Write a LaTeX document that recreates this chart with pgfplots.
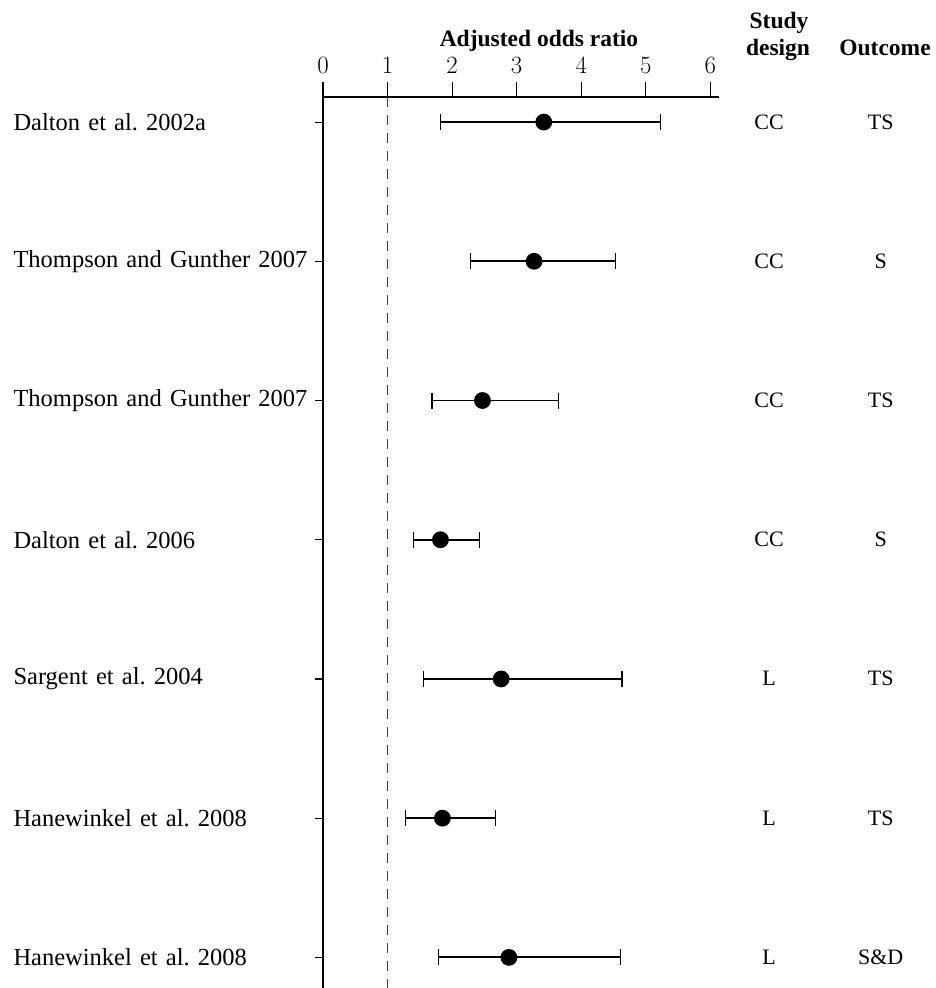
\documentclass[border=0pt]{standalone}
\usepackage{pgfplots}
\pgfplotsset{compat=1.18}
\usepackage{pgfplotstable}
\usepackage{fontspec}
\setmainfont{Liberation Serif}
\frenchspacing
\pgfplotstableread{
row or lo hi
1 3.42 1.82 5.23
2 3.27 2.28 4.53
3 2.47 1.69 3.65
4 1.82 1.40 2.42
5 2.76 1.56 4.63
6 1.85 1.28 2.67
7 2.88 1.79 4.61
}\ordata
\begin{document}
\begin{tikzpicture}[x=1pt,y=1pt]
\path[use as bounding box] (0,0) rectangle (935,-988);
\begin{axis}[
  at={(323pt,-988pt)}, anchor=south west,
  scale only axis, width=395.7pt, height=891pt,
  xmin=0, xmax=6.13, ymin=0.82, ymax=7.22,
  y dir=reverse,
  axis x line*=top, axis y line*=left,
  axis line style={line width=1.8pt, -},
  xtick={0,1,2,3,4,5,6},
  ytick={1,2,3,4,5,6,7},
  yticklabels={Dalton et al. 2002a, Thompson and Gunther 2007, Thompson and Gunther 2007, Dalton et al. 2006, Sargent et al. 2004, Hanewinkel et al. 2008, Hanewinkel et al. 2008},
  tick align=outside,
  xtick style={/pgfplots/major tick length=15pt, line width=1.1pt, black},
  ytick style={/pgfplots/major tick length=8pt, line width=1.1pt, black},
  xticklabel style={font=\fontsize{25}{28}\selectfont, inner sep=0pt, yshift=19pt},
  yticklabel style={font=\fontsize{24.5}{28}\selectfont, text width=297pt, align=left, anchor=east, inner sep=0pt, xshift=-8pt},
  clip=false,
]
\addplot[black!75, line width=1.5pt, dash pattern=on 10pt off 8pt] coordinates {(1,0.82) (1,7.22)};
\addplot[only marks, mark=*, mark size=7.5pt, black, line width=1.8pt,
  error bars/.cd, x dir=both, x explicit, error mark=|,
  error bar style={line width=1.9pt, black},
  error mark options={mark size=8pt, line width=1.3pt, black}]
  table[x=or, y=row, x error minus expr=\thisrow{or}-\thisrow{lo}, x error plus expr=\thisrow{hi}-\thisrow{or}] {\ordata};
\begin{scope}[every node/.style={anchor=base, font=\fontsize{22}{26}\selectfont}]
\node at (axis cs:6.91,1) [yshift=-7pt] {CC};
\node at (axis cs:6.91,2) [yshift=-7pt] {CC};
\node at (axis cs:6.91,3) [yshift=-7pt] {CC};
\node at (axis cs:6.91,4) [yshift=-7pt] {CC};
\node at (axis cs:6.91,5) [yshift=-7pt] {L};
\node at (axis cs:6.91,6) [yshift=-7pt] {L};
\node at (axis cs:6.91,7) [yshift=-7pt] {L};
\node at (axis cs:8.64,1) [yshift=-7pt] {TS};
\node at (axis cs:8.64,2) [yshift=-7pt] {S};
\node at (axis cs:8.64,3) [yshift=-7pt] {TS};
\node at (axis cs:8.64,4) [yshift=-7pt] {S};
\node at (axis cs:8.64,5) [yshift=-7pt] {TS};
\node at (axis cs:8.64,6) [yshift=-7pt] {TS};
\node at (axis cs:8.64,7) [yshift=-7pt] {S\&D};
\end{scope}
\end{axis}
\begin{scope}[every node/.style={anchor=base, font=\bfseries\fontsize{23.5}{27}\selectfont, inner sep=0pt}]
\node at (539,-46) {Adjusted odds ratio};
\node at (779,-28) {Study};
\node at (778,-55) {design};
\node at (885,-55) {Outcome};
\end{scope}
\end{tikzpicture}
\end{document}
